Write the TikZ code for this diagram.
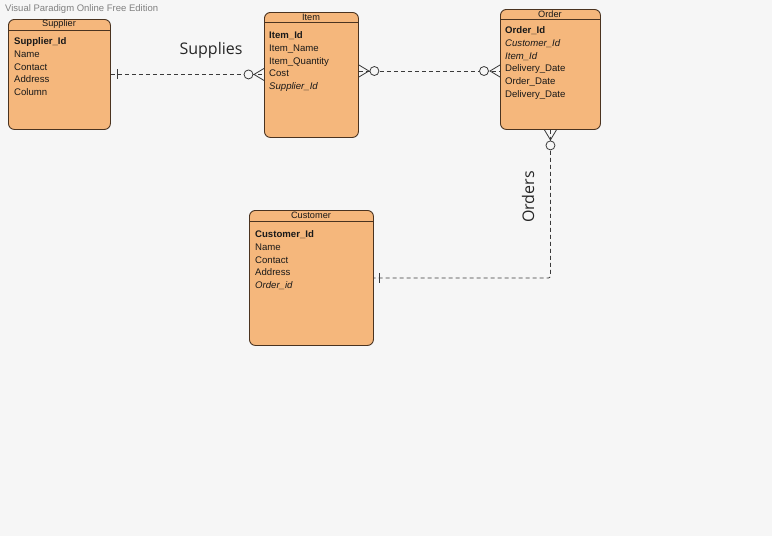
\documentclass[tikz,border=0pt]{standalone}
\usepackage{fontspec}
\setmainfont{Liberation Sans}
\newfontfamily\labelfont{Open Sans}
\definecolor{bgc}{HTML}{F6F6F6}
\definecolor{entfill}{HTML}{F5B77C}
\definecolor{entline}{HTML}{4A3320}
\definecolor{linkc}{HTML}{3A3A3A}
\tikzset{
	entity/.style={draw=entline, fill=entfill, rounded corners=6pt, line width=0.9pt, anchor=north west, inner sep=0pt},
	title/.style={font=\fontsize{9.2}{10}\selectfont, inner sep=0pt, text=black!90},
	attrs/.style={font=\fontsize{9.6}{12.75}\selectfont, align=left, anchor=north west, inner sep=0pt, text=black!90},
	link/.style={draw=linkc, dash pattern=on 4pt off 3pt, line width=0.8pt},
	ends/.style={draw=linkc, line width=0.8pt},
	relname/.style={font=\labelfont\fontsize{16}{18}\selectfont, inner sep=0pt, text=black!85}
}
\begin{document}
\begin{tikzpicture}[x=1pt,y=-1pt]
	\fill[bgc] (0,0) rectangle (772,536);
	\useasboundingbox (0,0) rectangle (772,536);
	\node (mark) [anchor=west, font=\fontsize{9.5}{10}\selectfont, text=gray, inner sep=0pt] at (5,9) {Visual Paradigm Online Free Edition};
	% tabelle
	\node[entity, minimum width=102pt, minimum height=110pt] (supplier) at (8,19) {};
	\draw[entline, line width=0.9pt] (8,30) -- (110,30);
	\node[title] (suppliertitle) at (59,24.5) {Supplier};
	\node[attrs] (supplierattrs) at (14,37.5) {\textbf{Supplier\_Id}\\Name\\Contact\\Address\\Column};
	\node[entity, minimum width=94pt, minimum height=125pt] (item) at (264,12) {};
	\draw[entline, line width=0.9pt] (264,22) -- (358,22);
	\node[title] (itemtitle) at (311,17) {Item};
	\node[attrs] (itemattrs) at (269,31.5) {\textbf{Item\_Id}\\Item\_Name\\Item\_Quantity\\Cost\\\textit{Supplier\_Id}};
	\node[entity, minimum width=100pt, minimum height=120pt] (order) at (500,9) {};
	\draw[entline, line width=0.9pt] (500,19) -- (600,19);
	\node[title] (ordertitle) at (550,14) {Order};
	\node[attrs] (orderattrs) at (505,26.5) {\textbf{Order\_Id}\\\textit{Customer\_Id}\\\textit{Item\_Id}\\Delivery\_Date\\Order\_Date\\Delivery\_Date};
	\node[entity, minimum width=124pt, minimum height=135pt] (customer) at (249,210) {};
	\draw[entline, line width=0.9pt] (249,221) -- (373,221);
	\node[title] (customertitle) at (311,215.5) {Customer};
	\node[attrs] (customerattrs) at (255,230.5) {\textbf{Customer\_Id}\\Name\\Contact\\Address\\\textit{Order\_id}};
	% relazioni
	\draw[link] (supplier.east) -- (supplier.east -| item.west);
	\draw[ends] (supplier.east) ++(6,-5) -- ++(0,10);
	\draw[ends] (supplier.east -| item.west) ++(0,-6) -- ++(-10,6) -- ++(10,6);
	\draw[ends, fill=bgc] (supplier.east -| item.west) ++(-15.5,0) circle (4.5pt);
	\coordinate (io) at (0,71);
	\draw[link] (item.east |- io) -- (order.west |- io);
	\draw[ends] (item.east |- io) ++(0,-6) -- ++(10,6) -- ++(-10,6);
	\draw[ends, fill=bgc] (item.east |- io) ++(15.5,0) circle (4.5pt);
	\draw[ends] (order.west |- io) ++(0,-6) -- ++(-10,6) -- ++(10,6);
	\draw[ends, fill=bgc] (order.west |- io) ++(-16,0) circle (4.5pt);
	\draw[link, rounded corners=2pt] (order.south) -- (order.south |- customer.east) -- (customer.east);
	\draw[ends] (order.south) ++(-6,0) -- ++(6,10) -- ++(6,-10);
	\draw[ends, fill=bgc] (order.south) ++(0,15.5) circle (4.5pt);
	\draw[ends] (customer.east) ++(5,-5) -- ++(0,10);
	% etichette
	\node[relname] (supplies) at (211,50) {Supplies};
	\node[relname, rotate=90] (orders) at (528,197) {Orders};
\end{tikzpicture}
\end{document}
